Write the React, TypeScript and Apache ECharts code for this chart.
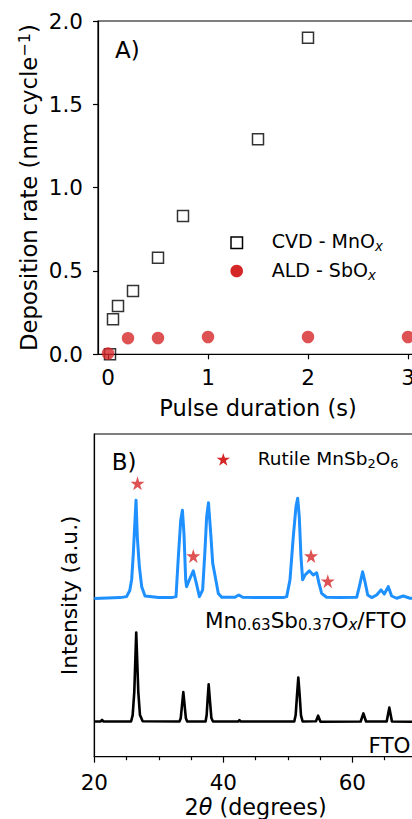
import React, { useEffect, useRef } from 'react';
import * as echarts from 'echarts';

const FONT = 'DejaVu Sans';
const RED = '#d62728';
const BLUE = '#1e90ff';

// Panel A: deposition rate vs pulse duration
const cvdPulse = [0.02, 0.05, 0.1, 0.25, 0.5, 0.75, 1.5, 2.0];
const cvdRate = [0.0, 0.21, 0.29, 0.38, 0.58, 0.83, 1.29, 1.9];
const aldPulse = [0, 0.2, 0.5, 1, 2, 3];
const aldRate = [0.005, 0.097, 0.098, 0.104, 0.104, 0.104];
const pulseTicks = [0, 1, 2, 3];
const rateTicks = [0, 0.5, 1.0, 1.5, 2.0];

// Panel B: XRD patterns (2theta, intensity in arbitrary units, offset)
const xrdFilm: [number, number][] = [
  [20, 49.0], [22, 49.2], [24, 49.3], [25.0, 49.6], [25.5, 51.5], [25.8, 55], [26.05, 63], [26.3, 73],
  [26.47, 79.5], [26.67, 68], [26.98, 59], [27.35, 52.7], [27.86, 49.8], [30, 49.3], [32, 49.3],
  [32.67, 49.6], [33.03, 62], [33.4, 73.3], [33.66, 76.4], [33.9, 69.2], [34.17, 54.8], [34.3, 52.7],
  [34.84, 55.3], [35.35, 57.6], [35.77, 54.2], [36.3, 49.6], [36.8, 51.7], [37.16, 64], [37.42, 74.4],
  [37.7, 78.7], [38.05, 69.2], [38.36, 59.9], [38.7, 56.3], [39.23, 50.6], [39.75, 49.4], [41.8, 49.4],
  [42.4, 50.1], [43.0, 49.4], [46, 49.3], [49.3, 49.3], [49.83, 49.6], [50.34, 54.8], [50.85, 68.2],
  [51.27, 77.5], [51.53, 80.1], [51.78, 74.4], [52.04, 62], [52.3, 54.8], [52.67, 56.3], [53.33, 57.6],
  [53.95, 56.3], [54.48, 57.0], [54.84, 53.7], [55.25, 50.6], [56.0, 49.4], [58, 49.3], [60.68, 49.4],
  [61.09, 52.7], [61.6, 57.3], [61.97, 54.2], [62.39, 50.1], [63.0, 49.3], [63.78, 50.1], [64.45, 51.7],
  [64.96, 50.4], [65.58, 52.7], [66.1, 49.8], [66.88, 49.1], [67.9, 49.8], [68.95, 49.1], [70, 49.1],
];
const xrdFto: [number, number][] = [
  [20, 10.9], [21.0, 10.9], [21.2, 11.4], [21.4, 10.9], [25.7, 10.9], [25.95, 12.9], [26.2, 20.1],
  [26.5, 38.5], [26.82, 20.1], [27.08, 12.9], [27.5, 11.0], [33.2, 10.9], [33.4, 11.9], [33.6, 16],
  [33.8, 20.0], [34.0, 16], [34.2, 11.9], [34.4, 10.9], [37.25, 10.9], [37.42, 12.9], [37.58, 18.1],
  [37.73, 22.4], [37.94, 17.1], [38.15, 12.0], [38.4, 10.9], [42.3, 10.9], [42.5, 11.3], [42.7, 10.9],
  [51.0, 10.9], [51.22, 12.9], [51.43, 19.1], [51.63, 24.5], [51.84, 19.1], [52.05, 12.7], [52.3, 10.9],
  [54.37, 11.0], [54.7, 12.7], [55.07, 10.85], [61.3, 10.9], [61.72, 13.4], [62.13, 10.9], [65.33, 10.9],
  [65.74, 15.2], [66.15, 10.9], [70, 10.8],
];
const starTheta = [26.7, 35.35, 53.6, 56.2];
const starInt = [84.7, 62.2, 62.2, 54.4];
const thetaLabels = [20, 40, 60];
const thetaMinor = [25, 30, 35, 45, 50, 55, 65];

const STAR_PTS: [number, number][] = [
  [0, -1], [0.2245, -0.309], [0.9511, -0.309], [0.3633, 0.118], [0.5878, 0.809],
  [0, 0.382], [-0.5878, 0.809], [-0.3633, 0.118], [-0.9511, -0.309], [-0.2245, -0.309],
];
const STAR_PATH =
  'path://' +
  STAR_PTS.map((p, i) => `${i ? 'L' : 'M'}${(p[0] * 10).toFixed(3)},${(p[1] * 10).toFixed(3)}`).join('') +
  'Z';

const axisLineStyle = { color: '#000', width: 1.2 };
const tok = (size: number, extra: any = {}) => ({ fontSize: size, fontFamily: FONT, color: '#000', ...extra });
const tickRich = { t: tok(21.5) };

const subRich = (size: number) => ({
  a: tok(size, { lineHeight: 24 }),
  s: tok(size * 0.7, { lineHeight: 13, verticalAlign: 'bottom' }),
  si: tok(size * 0.7, { lineHeight: 13, verticalAlign: 'bottom', fontStyle: 'italic' }),
});

const option: any = {
  animation: false,
  backgroundColor: '#fff',
  textStyle: { fontFamily: FONT, color: '#000' },
  grid: [
    {
      left: 98, top: 21, right: -6, bottom: 464.7, show: true, borderColor: '#000', borderWidth: 1.2,
      containLabel: false, outerBoundsMode: 'none',
    },
    {
      left: 94.3, top: 434, right: -4.8, bottom: 62.3, show: true, borderColor: '#000', borderWidth: 1.2,
      containLabel: false, outerBoundsMode: 'none',
    },
  ],
  xAxis: [
    {
      gridIndex: 0, type: 'value', min: -0.1, max: 3.1,
      splitLine: { show: false },
      axisLine: { show: true, onZero: false, lineStyle: axisLineStyle },
      axisTick: { show: true, customValues: pulseTicks, length: 5, lineStyle: axisLineStyle },
      axisLabel: { customValues: pulseTicks, margin: 12, formatter: (v: number) => `{t|${v}}`, rich: tickRich },
      name: '{a|Pulse duration (s)}', nameLocation: 'middle', nameGap: 41, nameMoveOverlap: false,
      nameTextStyle: { rich: { a: tok(22.5, { lineHeight: 26 }) } },
    },
    {
      gridIndex: 1, type: 'value', min: 20, max: 70, position: 'bottom',
      splitLine: { show: false },
      axisLine: { show: true, onZero: false, lineStyle: axisLineStyle },
      axisTick: { show: true, customValues: thetaLabels, length: 6, lineStyle: axisLineStyle },
      axisLabel: { customValues: thetaLabels, margin: 15, formatter: (v: number) => `{t|${v}}`, rich: tickRich },
      name: '{a|2}{i|θ}{a| (degrees)}', nameLocation: 'middle', nameGap: 37, nameMoveOverlap: false,
      nameTextStyle: {
        rich: { a: tok(22.3, { lineHeight: 26 }), i: tok(22.3, { lineHeight: 26, fontStyle: 'italic' }) },
      },
    },
    {
      gridIndex: 1, type: 'value', min: 20, max: 70, position: 'bottom',
      splitLine: { show: false },
      axisLine: { show: false },
      axisTick: { show: true, customValues: thetaMinor, length: 3.5, lineStyle: axisLineStyle },
      axisLabel: { show: false },
    },
  ],
  yAxis: [
    {
      gridIndex: 0, type: 'value', min: 0, max: 2, interval: 0.5,
      splitLine: { show: false },
      axisLine: { show: true, onZero: false, lineStyle: axisLineStyle },
      axisTick: { show: true, length: 5, lineStyle: axisLineStyle },
      axisLabel: { margin: 15, formatter: (v: number) => `{t|${v.toFixed(1)}}`, customValues: rateTicks, rich: tickRich },
      name: '{a|Deposition rate (nm cycle}{s|−1}{a|)}', nameLocation: 'middle', nameGap: 56, nameMoveOverlap: false,
      nameTextStyle: {
        rich: {
          a: tok(22.8, { lineHeight: 26 }),
          s: tok(16, { lineHeight: 14, verticalAlign: 'top' }),
        },
      },
    },
    {
      gridIndex: 1, type: 'value', min: 0, max: 100,
      splitLine: { show: false },
      axisLine: { show: true, onZero: false, lineStyle: axisLineStyle },
      axisTick: { show: false },
      axisLabel: { show: false },
      name: '{a|Intensity (a.u.)}', nameLocation: 'middle', nameGap: 12, nameMoveOverlap: false,
      nameTextStyle: { rich: { a: tok(21.8, { lineHeight: 26 }) } },
    },
  ],
  series: [
    {
      type: 'scatter', xAxisIndex: 0, yAxisIndex: 0,
      data: cvdPulse.map((x, i) => [x, cvdRate[i]]),
      symbol: 'rect', symbolSize: 11,
      itemStyle: { color: 'rgba(255,255,255,0)', borderColor: '#000', borderWidth: 1.5 },
      z: 2,
    },
    {
      type: 'scatter', xAxisIndex: 0, yAxisIndex: 0,
      data: aldPulse.map((x, i) => [x, aldRate[i]]),
      symbol: 'circle', symbolSize: 12.5,
      itemStyle: { color: RED },
      z: 3,
    },
    {
      type: 'line', xAxisIndex: 1, yAxisIndex: 1, data: xrdFilm, showSymbol: false,
      lineStyle: { color: BLUE, width: 3, join: 'round' }, z: 2,
    },
    {
      type: 'line', xAxisIndex: 1, yAxisIndex: 1, data: xrdFto, showSymbol: false,
      lineStyle: { color: '#000', width: 2.6, join: 'round' }, z: 2,
    },
    {
      type: 'scatter', xAxisIndex: 1, yAxisIndex: 1,
      data: starTheta.map((x, i) => [x, starInt[i]]),
      symbol: STAR_PATH, symbolSize: 14,
      itemStyle: { color: RED },
      z: 4,
    },
  ],
  graphic: [
    { type: 'text', x: 115, y: 50, style: { text: '{a|A)}', rich: { a: tok(23) }, verticalAlign: 'middle' } },
    { type: 'rect', shape: { x: 231, y: 237, width: 11.5, height: 11.5 }, style: { fill: 'none', stroke: '#000', lineWidth: 1.5 } },
    {
      type: 'text', x: 271.7, y: 241,
      style: { text: '{a|CVD - MnO}{si|x}', rich: subRich(19), verticalAlign: 'middle', fill: '#000' },
    },
    { type: 'circle', shape: { cx: 236.7, cy: 271, r: 6.3 }, style: { fill: RED } },
    {
      type: 'text', x: 271.7, y: 270,
      style: { text: '{a|ALD - SbO}{si|x}', rich: subRich(19), verticalAlign: 'middle', fill: '#000' },
    },
    { type: 'text', x: 111.7, y: 462, style: { text: '{a|B)}', rich: { a: tok(23) }, verticalAlign: 'middle' } },
    {
      type: 'polygon',
      shape: { points: STAR_PTS.map((p) => [223.3 + p[0] * 7, 460 + p[1] * 7]) },
      style: { fill: RED },
    },
    {
      type: 'text', x: 257.7, y: 458,
      style: { text: '{a|Rutile MnSb}{s|2}{a|O}{s|6}', rich: subRich(18.5), verticalAlign: 'middle', fill: '#000' },
    },
    {
      type: 'text', x: 205, y: 620,
      style: { text: '{a|Mn}{s|0.63}{a|Sb}{s|0.37}{a|O}{si|x}{a|/FTO}', rich: subRich(21.5), verticalAlign: 'middle', fill: '#000' },
    },
    { type: 'text', x: 368.5, y: 745, style: { text: '{a|FTO}', rich: { a: tok(21.5) }, verticalAlign: 'middle' } },
  ],
};

export default function App() {
  const ref = useRef<HTMLDivElement>(null);
  useEffect(() => {
    const chart = echarts.init(ref.current!, undefined, { renderer: 'svg' });
    chart.setOption(option);
    return () => chart.dispose();
  }, []);
  return <div ref={ref} style={{ position: 'absolute', left: 0, top: 0, width: 412, height: 819 }} />;
}
